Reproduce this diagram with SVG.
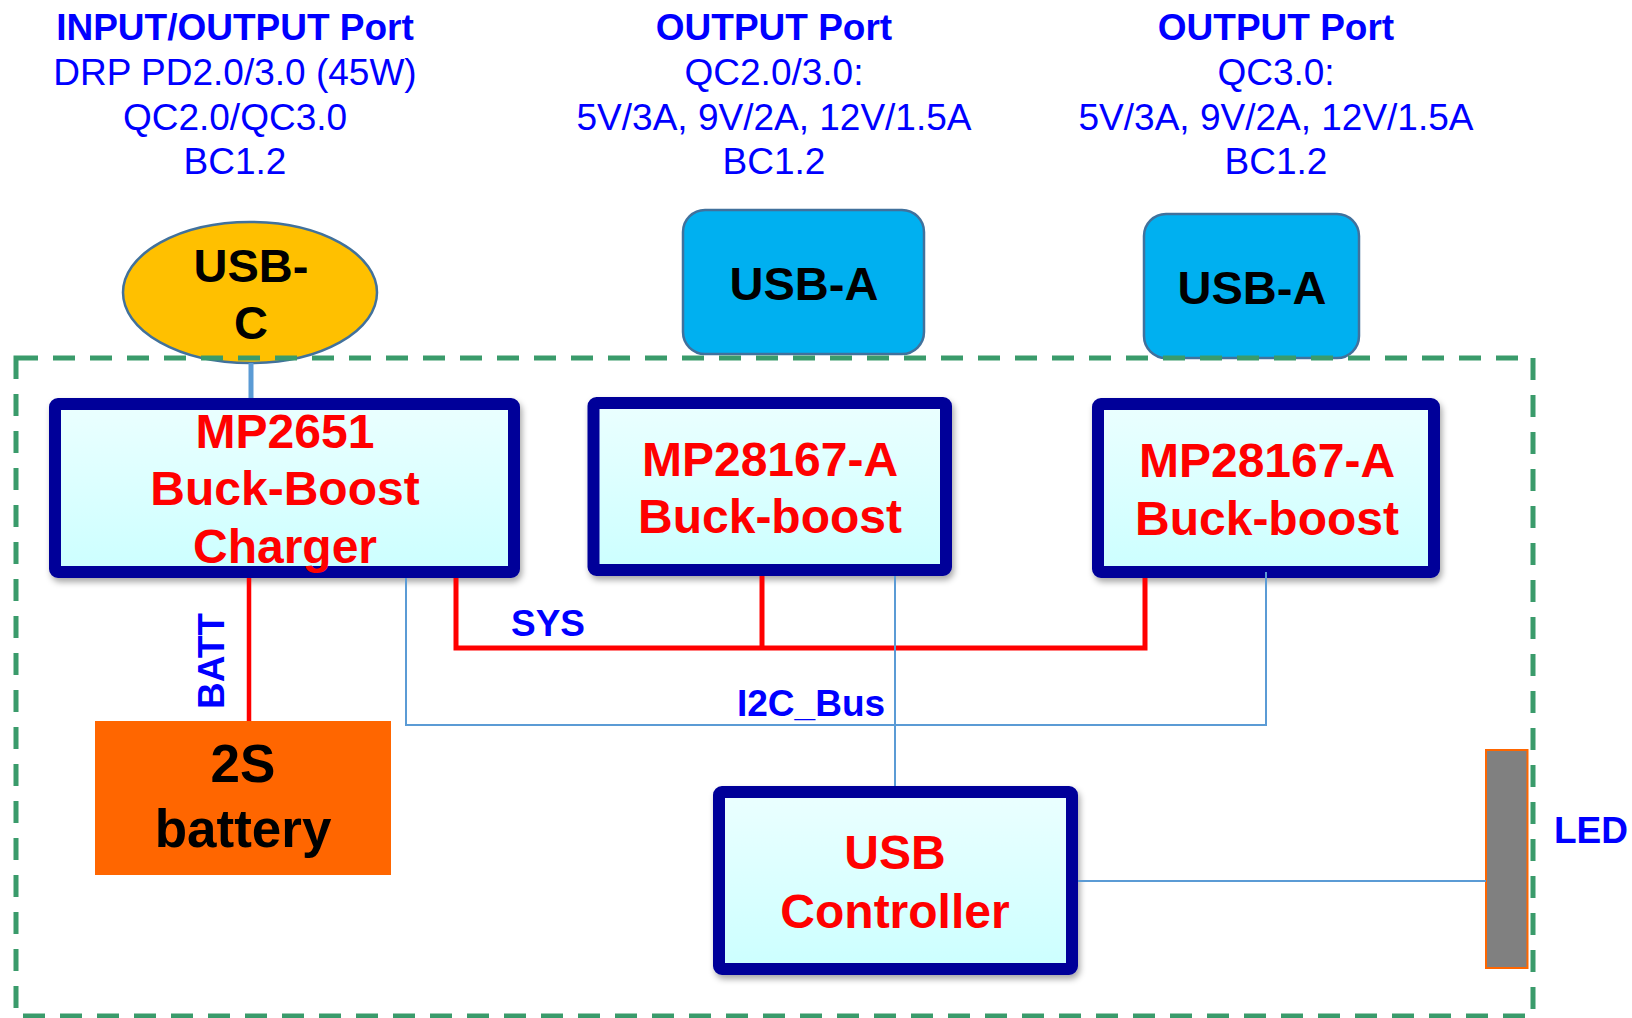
<svg xmlns="http://www.w3.org/2000/svg" width="1632" height="1018" viewBox="0 0 1632 1018">
<defs>
<linearGradient id="boxfill" x1="0" y1="0" x2="0" y2="1">
<stop offset="0" stop-color="#EBFFFF"/>
<stop offset="1" stop-color="#CCFFFF"/>
</linearGradient>
<filter id="shadow" x="-10%" y="-10%" width="120%" height="130%">
<feDropShadow dx="2" dy="4" stdDeviation="3" flood-color="#000" flood-opacity="0.35"/>
</filter>
</defs>
<style>
text{font-family:"Liberation Sans",Arial,sans-serif;}
.hdr{fill:#0000FF;font-size:37px;text-anchor:middle;}
.hdrb{font-weight:bold;}
.chip{fill:url(#boxfill);stroke:#000099;stroke-width:12;stroke-linejoin:round;filter:url(#shadow);}
.chipt{fill:#FF0000;font-weight:bold;font-size:48px;text-anchor:middle;}
.port{fill:#00B0F0;stroke:#41719C;stroke-width:2.5;}
.portt{fill:#000;font-weight:bold;font-size:47px;text-anchor:middle;}
.lbl{fill:#0000FF;font-weight:bold;font-size:37px;}
.pwr{fill:none;stroke:#FF0000;stroke-width:5;}
.sig{fill:none;stroke:#5B9BD5;stroke-width:2;}
</style>

<g id="headers">
<text class="hdr hdrb" x="235" y="40">INPUT/OUTPUT Port</text>
<text class="hdr" x="235" y="85">DRP PD2.0/3.0 (45W)</text>
<text class="hdr" x="235" y="130">QC2.0/QC3.0</text>
<text class="hdr" x="235" y="174">BC1.2</text>
<text class="hdr hdrb" x="774" y="40">OUTPUT Port</text>
<text class="hdr" x="774" y="85">QC2.0/3.0:</text>
<text class="hdr" x="774" y="130">5V/3A, 9V/2A, 12V/1.5A</text>
<text class="hdr" x="774" y="174">BC1.2</text>
<text class="hdr hdrb" x="1276" y="40">OUTPUT Port</text>
<text class="hdr" x="1276" y="85">QC3.0:</text>
<text class="hdr" x="1276" y="130">5V/3A, 9V/2A, 12V/1.5A</text>
<text class="hdr" x="1276" y="174">BC1.2</text>
</g>

<g id="usb-c">
<ellipse cx="250" cy="292.5" rx="127" ry="70.5" fill="#FFC000" stroke="#41719C" stroke-width="2.5"/>
<text class="portt" x="251" y="282">USB-</text>
<text class="portt" x="251" y="339">C</text>
</g>

<g id="usb-a-1">
<rect class="port" x="683" y="210" width="241" height="144" rx="22"/>
<text class="portt" x="804" y="300">USB-A</text>
</g>

<g id="usb-a-2">
<rect class="port" x="1144" y="214" width="215" height="144" rx="22"/>
<text class="portt" x="1252" y="304">USB-A</text>
</g>

<g id="board">
<rect x="16" y="358" width="1517" height="658" fill="none" stroke="#3A9B6B" stroke-width="5" stroke-dasharray="22 15"/>
</g>

<g id="mp2651">
<rect class="chip" x="55" y="404" width="459" height="168" rx="3"/>
<text class="chipt" x="285" y="448">MP2651</text>
<text class="chipt" x="285" y="505">Buck-Boost</text>
<text class="chipt" x="285" y="563">Charger</text>
</g>

<g id="mp28167-a-1">
<rect class="chip" x="593.5" y="403" width="352.5" height="167" rx="3"/>
<text class="chipt" x="770" y="476">MP28167-A</text>
<text class="chipt" x="770" y="533">Buck-boost</text>
</g>

<g id="mp28167-a-2">
<rect class="chip" x="1098" y="404" width="336" height="168" rx="3"/>
<text class="chipt" x="1267" y="477">MP28167-A</text>
<text class="chipt" x="1267" y="535">Buck-boost</text>
</g>

<g id="usb-controller">
<rect class="chip" x="719" y="792" width="353" height="177" rx="3"/>
<text class="chipt" x="895" y="869">USB</text>
<text class="chipt" x="895" y="928">Controller</text>
</g>

<g id="battery">
<rect x="95" y="721" width="296" height="154" fill="#FF6600"/>
<text x="243" y="782" fill="#000" font-weight="bold" font-size="53" text-anchor="middle">2S</text>
<text x="243" y="847" fill="#000" font-weight="bold" font-size="53" text-anchor="middle">battery</text>
</g>

<g id="led">
<rect x="1486" y="750" width="41.5" height="218" fill="#808080" stroke="#FF6600" stroke-width="2"/>
<text class="lbl" x="1554" y="843" font-size="36">LED</text>
</g>

<g id="connectors">
<line x1="251" y1="363" x2="251" y2="398" stroke="#5B9BD5" stroke-width="5"/>
<line x1="249" y1="578" x2="249" y2="721" stroke="#FF0000" stroke-width="4.5"/>
<polyline class="pwr" points="456,578 456,648 1145,648 1145,578"/>
<line class="pwr" x1="762" y1="576" x2="762" y2="648"/>
<polyline class="sig" points="406,578 406,725 1266,725 1266,572"/>
<line class="sig" x1="895" y1="576" x2="895" y2="786"/>
<line class="sig" x1="1078" y1="881" x2="1486" y2="881" stroke-width="2.5"/>
<text class="lbl" x="0" y="0" transform="translate(224,661) rotate(-90)" text-anchor="middle" font-size="36">BATT</text>
<text class="lbl" x="511" y="636" font-size="36">SYS</text>
<text class="lbl" x="737" y="716">I2C_Bus</text>
</g>
</svg>
